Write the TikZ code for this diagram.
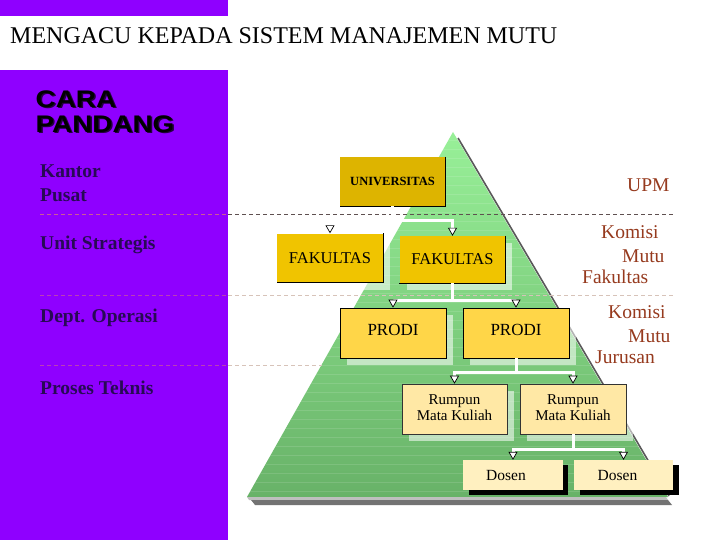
\documentclass[tikz,border=0pt]{standalone}
\usepackage{fontspec}
\setmainfont{Liberation Serif}
\newfontfamily\carafont{Liberation Sans}[FakeStretch=1.16]
\usetikzlibrary{arrows.meta,calc}
\definecolor{violetbg}{RGB}{143,0,255}
\definecolor{pyrtop}{RGB}{152,240,152}
\definecolor{pyrbot}{RGB}{104,178,104}
\definecolor{golduniv}{RGB}{221,180,0}
\definecolor{goldfak}{RGB}{240,196,0}
\definecolor{yelprodi}{RGB}{255,214,72}
\definecolor{yelrump}{RGB}{255,232,165}
\definecolor{yeldosen}{RGB}{255,240,192}
\definecolor{leftlab}{RGB}{40,10,85}
\definecolor{rightlab}{RGB}{150,58,30}
\definecolor{dashpink}{RGB}{205,90,150}
\definecolor{dashdark}{RGB}{95,80,80}
\definecolor{dashlight}{RGB}{215,195,185}
\tikzset{
  leftlabel/.style={anchor=base west, text=leftlab, font=\fontsize{19.5}{22}\selectfont\bfseries, inner sep=0pt},
  rightlabel/.style={anchor=base west, text=rightlab, font=\fontsize{19.5}{22}\selectfont, inner sep=0pt},
  carastyle/.style={anchor=base west, inner sep=0pt, font=\fontsize{24}{26}\selectfont\carafont\bfseries},
  boxbase/.style={inner sep=0pt, text=black},
  univbox/.style={boxbase, fill=golduniv, minimum width=105pt, minimum height=49pt, font=\fontsize{12.5}{14}\selectfont\bfseries},
  fakbox/.style={boxbase, fill=goldfak, minimum width=106pt, minimum height=49pt, font=\fontsize{16.5}{18}\selectfont},
  prodibox/.style={boxbase, fill=yelprodi, draw=black, line width=0.7pt, minimum width=106pt, minimum height=50pt, font=\fontsize{17}{18}\selectfont},
  rumpbox/.style={boxbase, fill=yelrump, draw=black!80, line width=0.6pt, minimum width=105pt, minimum height=50pt, align=center, font=\fontsize{15}{14.5}\selectfont},
  dosenbox/.style={boxbase, fill=yeldosen, minimum width=100pt, minimum height=30pt, font=\fontsize{15.5}{16}\selectfont},
  softshadow/.style={fill=white, opacity=0.55},
  hardshadow/.style={fill=black},
  dashline/.style={line width=1pt, dash pattern=on 4pt off 3pt},
  wline/.style={draw=white, line width=3pt},
  warrow/.style={draw=white, line width=3pt, -{Triangle[length=8pt,width=9pt,color=black,fill=white,line width=0.7pt]}},
}
\begin{document}
\begin{tikzpicture}[x=1pt,y=-1pt]
\useasboundingbox (0,0) rectangle (720,540);
\fill[white] (0,0) rectangle (720,540);
% violet panels
\fill[violetbg] (0,0) rectangle (228,16);
\fill[violetbg] (0,70) rectangle (228,540);
% title
\node[anchor=base west, inner sep=0pt, font=\fontsize{24}{26}\selectfont] (title) at (10,43.5) {MENGACU KEPADA SISTEM MANAJEMEN MUTU};
% CARA PANDANG with shadow
\node[carastyle, text=black!75!violetbg] (carash) at (37,109) {CARA};
\node[carastyle, text=black!75!violetbg] (pandsh) at (37,134) {PANDANG};
\node[carastyle, text=black] (cara) at (35.5,107.5) {CARA};
\node[carastyle, text=black] (pandang) at (35.5,132.5) {PANDANG};
% left labels
\node[leftlabel] (kantor) at (40,178) {Kantor};
\node[leftlabel] (pusat) at (40,202) {Pusat};
\node[leftlabel] (unit) at (40,249) {Unit Strategis};
\node[leftlabel] (dept) at (40,322) {Dept. Operasi};
\node[leftlabel] (proses) at (40,394) {Proses Teknis};
% pyramid
\shade[top color=pyrtop, bottom color=pyrbot] (453,132) -- (668,497) -- (247,497) -- cycle;
\begin{scope}
  \clip (453,132) -- (668,497) -- (247,497) -- cycle;
  \foreach \yy in {140,149,...,497} {
    \draw[white, opacity=0.12, line width=0.6pt] (240,\yy) -- (680,\yy);
  }
\end{scope}
\draw[black!65, line width=1.6pt] (458,138) -- (669,496);
\fill[black!25] (247,497) -- (666,497) -- (668,500) -- (249,500) -- cycle;
\fill[black!55] (251,500) -- (668,500) -- (672,505) -- (255,505) -- cycle;
% dashed separators
\draw[dashline, dashpink] (40,215) -- (228,215);
\draw[dashline, dashdark] (228,215) -- (673,215);
\draw[dashline, dashpink!70!violetbg] (40,295) -- (228,295);
\draw[dashline, dashlight] (228,295) -- (673,295);
\draw[dashline, dashpink!70!violetbg] (40,365) -- (228,365);
\draw[dashline, dashlight] (228,365) -- (322,365);
% right labels
\node[rightlabel] (upm) at (627,192) {UPM};
\node[rightlabel] (kom1) at (601,239) {Komisi};
\node[rightlabel] (mutu1) at (622,262) {Mutu};
\node[rightlabel] (fakl) at (582,283) {Fakultas};
\node[rightlabel] (kom2) at (608,318) {Komisi};
\node[rightlabel] (mutu2) at (628,342) {Mutu};
\node[rightlabel] (jur) at (595,363) {Jurusan};
% shadows
\fill[softshadow] (284,240) rectangle (390,290);
\fill[softshadow] (407,243) rectangle (512,290);
\fill[softshadow] (347,315) rectangle (453,365);
\fill[softshadow] (470,315) rectangle (576,365);
\fill[softshadow] (409,391) rectangle (514,441);
\fill[softshadow] (527,391) rectangle (633,441);
\fill[hardshadow] (469,465) rectangle (568,495);
\fill[hardshadow] (580,465) rectangle (679,495);
% boxes
\node[univbox] (univ) at (392.5,181.5) {UNIVERSITAS};
\draw[black, line width=1pt] (univ.north east) -- (univ.south east) -- (univ.south west);
\node[fakbox] (fak1) at (330,258) {FAKULTAS};
\draw[black, line width=1pt] (fak1.north east) -- (fak1.south east) -- (fak1.south west);
\node[fakbox, minimum height=47pt] (fak2) at (452.5,259.5) {FAKULTAS};
\draw[black, line width=1pt] (fak2.north east) -- (fak2.south east) -- (fak2.south west);
\node[prodibox] (prodi1) at (393,333) {\raisebox{6.5pt}{PRODI}};
\node[prodibox] (prodi2) at (516,333) {\raisebox{6.5pt}{PRODI}};
\node[rumpbox] (rump1) at (454.5,409) {\raisebox{3pt}{\shortstack{Rumpun\\Mata Kuliah}}};
\node[rumpbox, minimum width=106pt] (rump2) at (573,409) {\raisebox{3pt}{\shortstack{Rumpun\\Mata Kuliah}}};
\node[dosenbox] (dosen1) at (513,475) {\hspace*{-14pt}Dosen};
\node[dosenbox, minimum width=99pt] (dosen2) at (623.5,475) {\hspace*{-12pt}Dosen};
% connectors
\draw[wline] (univ.south) -- ++(0,14) coordinate (j1);
\draw[warrow] (j1) -| (fak1.north);
\draw[warrow] (j1) -| (fak2.north);
\draw[wline] (fak2.south) -- ++(0,17) coordinate (j2);
\draw[warrow] (j2) -| (prodi1.north);
\draw[warrow] (j2) -| (prodi2.north);
\draw[wline] (prodi2.south) -- ++(0,14) coordinate (j3);
\draw[warrow] (j3) -| (rump1.north);
\draw[warrow] (j3) -| (rump2.north);
\draw[wline] (rump2.south) -- ++(0,15) coordinate (j4);
\draw[warrow] (j4) -| (dosen1.north);
\draw[warrow] (j4) -| (dosen2.north);
\end{tikzpicture}
\end{document}
